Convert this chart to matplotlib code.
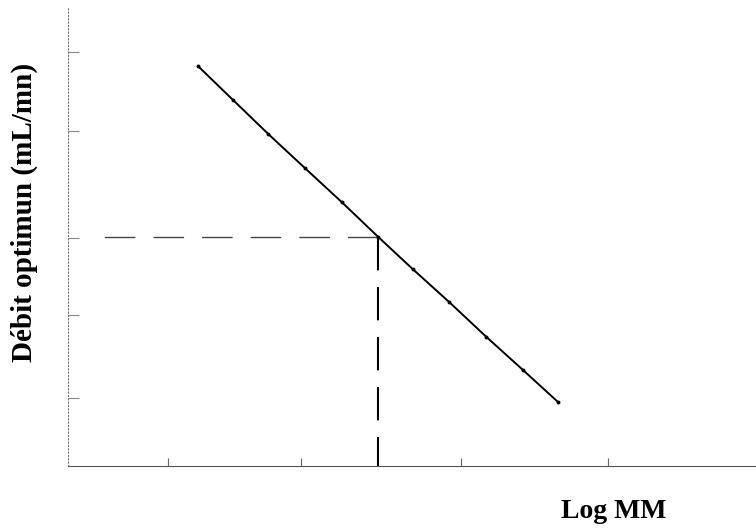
import matplotlib
matplotlib.use("Agg")
import matplotlib.pyplot as plt

# points (arbitrary units, no tick labels on the original)
log_mm = [1.89, 2.40, 2.91, 3.44, 3.98, 4.51, 5.01, 5.54, 6.08, 6.61, 7.12]
debit = [8.73, 7.99, 7.25, 6.51, 5.76, 5.00, 4.30, 3.58, 2.82, 2.10, 1.40]

x_ticks = [1.45, 3.39, 5.71, 7.85]
y_ticks = [1.48, 3.30, 4.98, 7.31, 9.04]

# the point picked out with the dashed guide lines
x_opt = 4.51
y_opt = 5.00
x_guide_start = 0.51

fig = plt.figure(figsize=(7.56, 5.32), dpi=100)
ax = fig.add_axes([68 / 756, 66 / 532, 688 / 756, 458 / 532])
ax.set_xlim(0, 10)
ax.set_ylim(0, 10)

ax.plot(log_mm, debit, color='black', lw=1.4, marker='o', markersize=1.8, zorder=3)

# dashed guides, drawn from the crossing point outwards
ax.plot([x_opt, x_guide_start], [y_opt, y_opt], color='#444444', lw=1,
        linestyle=(0, (22, 13)), zorder=2)
ax.plot([x_opt, x_opt], [y_opt, 0], color='black', lw=1.5,
        linestyle=(0, (16, 8)), zorder=2)

for side in ['top', 'right']:
    ax.spines[side].set_visible(False)
ax.spines['left'].set_color('#777777')
ax.spines['left'].set_linestyle((0, (1, 2)))
ax.spines['left'].set_linewidth(0.8)
ax.spines['bottom'].set_color('#555555')
ax.spines['bottom'].set_linestyle((0, (3, 1)))
ax.spines['bottom'].set_linewidth(0.8)

ax.set_xticks(x_ticks)
ax.set_yticks(y_ticks)
ax.set_xticklabels([])
ax.set_yticklabels([])
ax.tick_params(axis='x', direction='in', length=6, width=0.8, colors='#666666')
ax.tick_params(axis='y', direction='in', length=8, width=0.8, colors='#888888')

fig.text(24 / 756, 1 - 212 / 532, 'Débit optimun (mL/mn)', rotation=90,
         ha='center', va='center', fontsize=21, fontweight='bold',
         family='Liberation Serif')
fig.text(614 / 756, 1 - 512 / 532, 'Log MM', ha='center', va='center',
         fontsize=20, fontweight='bold', family='Liberation Serif')

fig.savefig('out.png', dpi=100)
